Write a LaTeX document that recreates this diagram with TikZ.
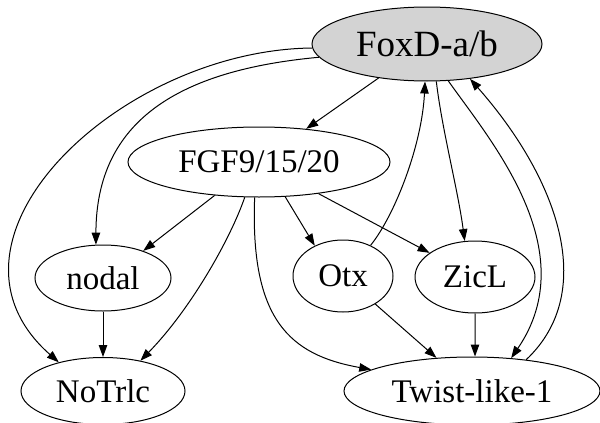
\documentclass[tikz,border=0pt]{standalone}
\usepackage{fontspec}
\setmainfont{Liberation Serif}
\usetikzlibrary{shapes.geometric,arrows.meta}
\definecolor{foxfill}{RGB}{211,211,211}
\begin{document}
\begin{tikzpicture}[x=1pt,y=-1pt,
  gene/.style={ellipse,draw=black,line width=1pt,inner sep=0pt,
    font=\fontsize{33}{36}\selectfont},
  edge/.style={line width=1pt,-{Triangle[length=12pt,width=8.5pt]}},
]
\useasboundingbox (0,0) rectangle (600,423);

% genes
\node[gene,fill=foxfill,minimum width=230pt,minimum height=74pt,
  font=\fontsize{37}{40}\selectfont] (fox) at (427,44) {FoxD-a/b};
\node[gene,minimum width=262pt,minimum height=70pt] (fgf) at (259,162) {FGF9/15/20};
\node[gene,minimum width=136pt,minimum height=66pt] (nodal) at (103,278) {nodal};
\node[gene,minimum width=100pt,minimum height=72pt] (otx) at (343,276) {Otx};
\node[gene,minimum width=120pt,minimum height=72pt] (zicl) at (475,277) {ZicL};
\node[gene,minimum width=164pt,minimum height=67pt] (notrlc) at (103,391) {NoTrlc};
\node[gene,minimum width=256pt,minimum height=68pt] (twist) at (472,391) {Twist-like-1};

% regulatory links
\draw[edge] (fox) -- (fgf);
\draw[edge] (fox.182) .. controls (120,50) and (-80,240) .. (notrlc.147);
\draw[edge] (fox.187) .. controls (180,70) and (96,120) .. (nodal.102);
\draw[edge] (fox.284) .. controls (442,130) and (458,190) .. (zicl.106);
\draw[edge] (fox.300) .. controls (490,140) and (585,250) .. (twist.40.5);
\draw[edge] (twist.30) .. controls (600,290) and (555,175) .. (fox.321);
\draw[edge] (otx.48) .. controls (395,215) and (422,145) .. (fox.267);

\draw[edge] (fgf.217) -- (nodal.34);
\draw[edge] (fgf.248) .. controls (230,240) and (190,310) .. (notrlc.39);
\draw[edge] (fgf.263) .. controls (250,320) and (290,355) .. (twist.168);
\draw[edge] (fgf.307) -- (otx.133);
\draw[edge] (fgf.332) -- (zicl.152);

\draw[edge] (nodal.south) -- (notrlc.north);
\draw[edge] (otx.319) -- (twist.137);
\draw[edge] (zicl.south) -- (twist.85);
\end{tikzpicture}
\end{document}
